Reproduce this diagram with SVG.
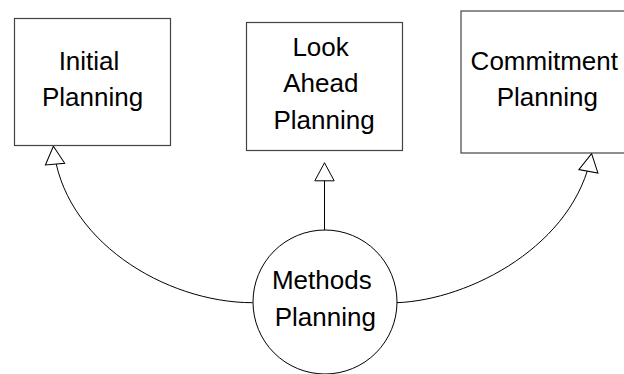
<svg xmlns="http://www.w3.org/2000/svg" width="624" height="374" viewBox="0 0 624 374">
  <style>
    .box { fill: #ffffff; stroke: #444444; stroke-width: 1.2; }
    .hub { fill: #ffffff; stroke: #000000; stroke-width: 1; }
    .lbl { font-family: "Liberation Sans", Arial, sans-serif; font-size: 26px; fill: #000000; text-anchor: middle; }
    .link { fill: none; stroke: #000000; stroke-width: 1; marker-end: url(#hollow); }
  </style>
  <defs>
    <!-- hollow triangular arrowhead, tip at the end of the connector -->
    <marker id="hollow" markerUnits="userSpaceOnUse" viewBox="0 0 20 20" refX="18" refY="10" markerWidth="20" markerHeight="20" orient="auto" overflow="visible">
      <path d="M18,10 L0,0.3 L0,19.7 Z" fill="#ffffff" stroke="#000000" stroke-width="1"/>
    </marker>
  </defs>
  <rect width="624" height="374" fill="#ffffff"/>

  <g id="connectors">
    <path class="link" d="M252.7,302.7 C165,302.7 62,240 53.4,146.2"/>
    <path class="link" d="M324.5,230 L324.5,162.8"/>
    <path class="link" d="M396.7,302.7 C470,300 575,245 591.6,153.6"/>
  </g>

  <g id="initial-planning">
    <rect class="box" x="14.5" y="18.5" width="156" height="127"/>
    <text class="lbl" x="89" y="70">Initial</text>
    <text class="lbl" x="92.5" y="106">Planning</text>
  </g>

  <g id="look-ahead-planning">
    <rect class="box" x="246.5" y="22.5" width="156" height="128"/>
    <text class="lbl" x="320.6" y="56">Look</text>
    <text class="lbl" x="320.8" y="92.3">Ahead</text>
    <text class="lbl" x="324" y="128.5">Planning</text>
  </g>

  <g id="commitment-planning">
    <rect class="box" x="461" y="11" width="175" height="142"/>
    <text class="lbl" x="544.3" y="70">Commitment</text>
    <text class="lbl" x="547.3" y="106">Planning</text>
  </g>

  <g id="methods-planning">
    <circle class="hub" cx="325" cy="302" r="72"/>
    <text class="lbl" x="321.8" y="289">Methods</text>
    <text class="lbl" x="325.3" y="326">Planning</text>
  </g>
</svg>
